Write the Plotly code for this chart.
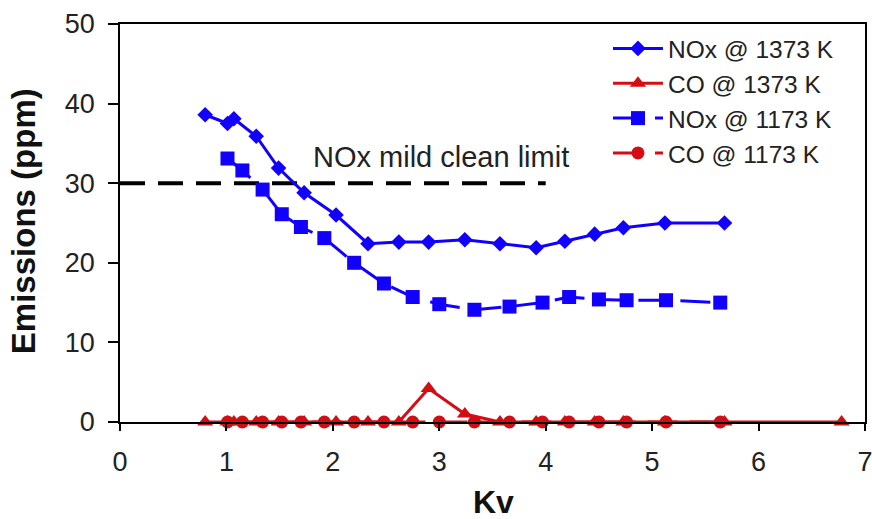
import plotly.graph_objects as go

# Kv values and emissions (ppm) at the two furnace temperatures
kv_1373 = [0.80, 1.01, 1.07, 1.28, 1.49, 1.73, 2.03, 2.33, 2.62, 2.90,
           3.24, 3.57, 3.91, 4.18, 4.46, 4.73, 5.12, 5.68]
nox_1373 = [38.6, 37.5, 38.1, 35.9, 31.9, 28.8, 26.0, 22.4, 22.6, 22.6,
            22.9, 22.4, 21.9, 22.7, 23.6, 24.4, 25.0, 25.0]

kv_co_1373 = kv_1373 + [6.78]
co_1373 = [0, 0, 0, 0, 0, 0, 0, 0, 0, 4.2,
           1.0, 0, 0, 0, 0, 0, 0, 0, 0]

kv_1173 = [1.01, 1.15, 1.34, 1.52, 1.70, 1.92, 2.20, 2.48, 2.75, 3.00,
           3.33, 3.66, 3.97, 4.22, 4.50, 4.76, 5.13, 5.64]
nox_1173 = [33.1, 31.6, 29.2, 26.1, 24.5, 23.1, 20.0, 17.4, 15.7, 14.8,
            14.1, 14.5, 15.0, 15.7, 15.4, 15.3, 15.3, 15.0]
co_1173 = [0] * len(kv_1173)

limit_kv = [0, 4.0]
limit_ppm = [30, 30]
limit_label = "NOx mild clean limit"

x_ticks = [0, 1, 2, 3, 4, 5, 6, 7]
y_ticks = [0, 10, 20, 30, 40, 50]

BLUE = "#1200ff"
RED = "#d40d14"
FONT = "Liberation Sans, Arial, sans-serif"

fig = go.Figure()

fig.add_trace(go.Scatter(
    x=limit_kv, y=limit_ppm, mode="lines", showlegend=False,
    line=dict(color="black", width=4, dash="25px,13px"), cliponaxis=False))

fig.add_trace(go.Scatter(
    x=kv_1373, y=nox_1373, name="NOx @ 1373 K", mode="lines+markers",
    line=dict(color=BLUE, width=3),
    marker=dict(symbol="diamond", size=12, color=BLUE), cliponaxis=False))

fig.add_trace(go.Scatter(
    x=kv_co_1373, y=co_1373, name="CO @ 1373 K", mode="lines+markers",
    line=dict(color=RED, width=3),
    marker=dict(symbol="triangle-up", size=14, color=RED), cliponaxis=False))

fig.add_trace(go.Scatter(
    x=kv_1173, y=nox_1173, name="NOx @ 1173 K", mode="lines+markers",
    line=dict(color=BLUE, width=3, dash="30px,12px"),
    marker=dict(symbol="square", size=14, color=BLUE), cliponaxis=False))

fig.add_trace(go.Scatter(
    x=kv_1173, y=co_1173, name="CO @ 1173 K", mode="lines+markers",
    line=dict(color=RED, width=3, dash="30px,12px"),
    marker=dict(symbol="circle", size=13, color=RED), cliponaxis=False))

fig.add_annotation(x=3.02, y=33.3, text=limit_label, showarrow=False,
                   font=dict(family=FONT, size=29, color="#222"))

# axis titles
fig.add_annotation(xref="paper", yref="paper", x=-0.130, y=0.505,
                   xanchor="center", yanchor="middle",
                   text="<b>Emissions (ppm)</b>", textangle=-90, showarrow=False,
                   font=dict(family=FONT, size=33, color="#111"))
fig.add_annotation(xref="paper", yref="paper", x=0.502, y=-0.2,
                   xanchor="center", yanchor="middle",
                   text="<b>Kv</b>", showarrow=False,
                   font=dict(family=FONT, size=32, color="#111"))

axis_common = dict(showline=True, linecolor="black", linewidth=1.5, mirror=True,
                   showgrid=False, zeroline=False, ticks="outside",
                   tickcolor="black", tickwidth=1.5, automargin=False,
                   ticklabeloverflow="allow",
                   tickfont=dict(family=FONT, size=27, color="#222"))

fig.update_xaxes(range=[0, 7], tickvals=x_ticks, ticklen=7,
                 ticklabelstandoff=8, **axis_common)
fig.update_yaxes(range=[0, 50], tickvals=y_ticks, ticklen=10,
                 ticklabelstandoff=8, **axis_common)

fig.update_layout(
    width=872, height=519,
    margin=dict(l=120, r=7, t=24, b=97, autoexpand=False),
    plot_bgcolor="white", paper_bgcolor="white",
    legend=dict(x=0.655, y=0.995, xanchor="left", yanchor="top",
                bgcolor="rgba(0,0,0,0)", itemwidth=50,
                font=dict(family=FONT, size=24.5, color="#222"),
                tracegroupgap=0),
)

fig.write_html("out.html")
